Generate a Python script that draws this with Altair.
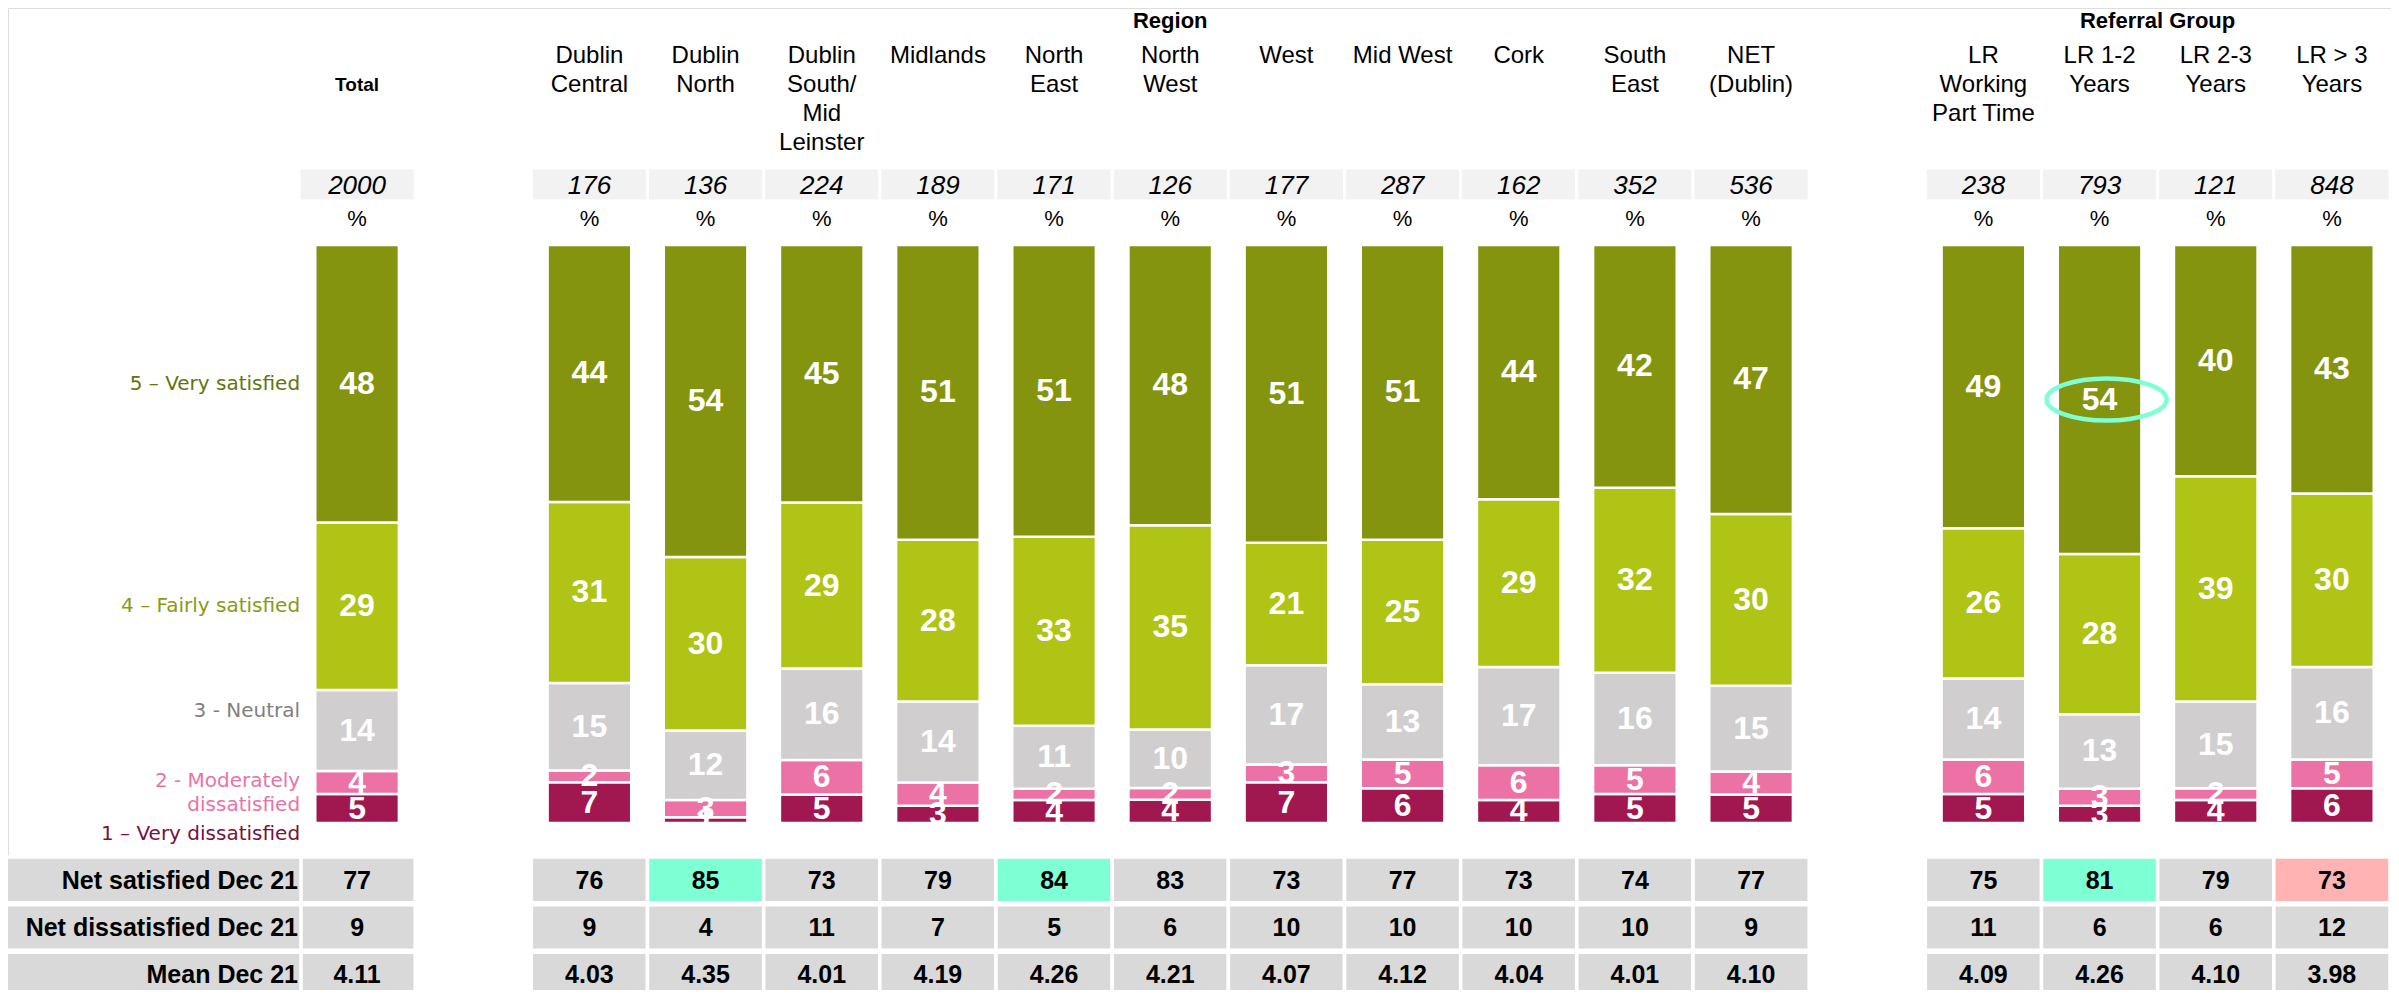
import altair as alt
import pandas as pd

# ---------------- data ----------------
columns = ["Total",
           "Dublin Central", "Dublin North", "Dublin South/Mid Leinster", "Midlands",
           "North East", "North West", "West", "Mid West", "Cork", "South East", "NET (Dublin)",
           "LR Working Part Time", "LR 1-2 Years", "LR 2-3 Years", "LR > 3 Years"]
header_labels = ["Total",
                 "Dublin\nCentral", "Dublin\nNorth", "Dublin\nSouth/\nMid\nLeinster", "Midlands",
                 "North\nEast", "North\nWest", "West", "Mid West", "Cork", "South\nEast", "NET\n(Dublin)",
                 "LR\nWorking\nPart Time", "LR 1-2\nYears", "LR 2-3\nYears", "LR > 3\nYears"]
base_n = [2000, 176, 136, 224, 189, 171, 126, 177, 287, 162, 352, 536, 238, 793, 121, 848]

very_satisfied = [48, 44, 54, 45, 51, 51, 48, 51, 51, 44, 42, 47, 49, 54, 40, 43]
fairly_satisfied = [29, 31, 30, 29, 28, 33, 35, 21, 25, 29, 32, 30, 26, 28, 39, 30]
neutral = [14, 15, 12, 16, 14, 11, 10, 17, 13, 17, 16, 15, 14, 13, 15, 16]
moderately_dissatisfied = [4, 2, 3, 6, 4, 2, 2, 3, 5, 6, 5, 4, 6, 3, 2, 5]
very_dissatisfied = [5, 7, 1, 5, 3, 4, 4, 7, 6, 4, 5, 5, 5, 3, 4, 6]

net_satisfied = [77, 76, 85, 73, 79, 84, 83, 73, 77, 73, 74, 77, 75, 81, 79, 73]
net_satisfied_sig = ["none", "none", "high", "none", "none", "high", "none", "none", "none",
                     "none", "none", "none", "none", "high", "none", "low"]
net_dissatisfied = [9, 9, 4, 11, 7, 5, 6, 10, 10, 10, 10, 9, 11, 6, 6, 12]
mean_score = ["4.11", "4.03", "4.35", "4.01", "4.19", "4.26", "4.21", "4.07", "4.12", "4.04",
              "4.01", "4.10", "4.09", "4.26", "4.10", "3.98"]

levels = ["1 – Very dissatisfied", "2 - Moderately dissatisfied", "3 - Neutral",
          "4 – Fairly satisfied", "5 – Very satisfied"]
legend_labels = ["1 – Very dissatisfied", "2 - Moderately\ndissatisfied", "3 - Neutral",
                 "4 – Fairly satisfied", "5 – Very satisfied"]
row_names = ["Net satisfied Dec 21", "Net dissatisfied Dec 21", "Mean Dec 21"]

group_titles = ["Region", "Referral Group"]
highlighted = ("LR 1-2 Years", "5 – Very satisfied")

# ---------------- styles ----------------
level_colors = ["#A1174F", "#EC72A6", "#D0CECE", "#AFC414", "#84940F"]
legend_text_colors = ["#7A1140", "#EC72A6", "#808080", "#8A9A14", "#66740C"]
legend_dy = [25, -2, -20, 0, 0]
FONT = "Liberation Sans"

regions = columns[1:12]
referral = columns[12:]
x_domain = ["Total", "_gap1"] + regions + ["_gap2"] + referral

# ---------------- tables ----------------
series = [very_dissatisfied, moderately_dissatisfied, neutral, fairly_satisfied, very_satisfied]
bars_df = pd.DataFrame([
    {"col": c, "level": levels[i], "lvl_idx": i, "value": series[i][j], "legend": legend_labels[i]}
    for j, c in enumerate(columns) for i in range(5)
])
hdr_df = pd.DataFrame({"col": columns, "label": header_labels, "n": base_n})
tab_rows = []
for j, c in enumerate(columns):
    tab_rows.append({"col": c, "row": row_names[0], "txt": str(net_satisfied[j]), "sig": net_satisfied_sig[j]})
    tab_rows.append({"col": c, "row": row_names[1], "txt": str(net_dissatisfied[j]), "sig": "none"})
    tab_rows.append({"col": c, "row": row_names[2], "txt": mean_score[j], "sig": "none"})
tab_df = pd.DataFrame(tab_rows)
rowlab_df = pd.DataFrame({"row": row_names})
title_df = pd.DataFrame({"col": ["North West", "LR 1-2 Years"], "title": group_titles})

# ---------------- scales ----------------
X = alt.X("col:N", scale=alt.Scale(domain=x_domain, range=[291, 2382], paddingInner=0, paddingOuter=0),
          axis=None)
yb = alt.Scale(domain=[0, 1], range=[815, 237], nice=False, zero=False)
yrow = alt.Scale(domain=row_names, range=[849, 990], paddingInner=0.04, paddingOuter=0)

stacked = (alt.Chart(bars_df)
           .transform_stack(stack="value", groupby=["col"],
                            sort=[alt.SortField("lvl_idx", order="ascending")],
                            offset="normalize", as_=["v0", "v1"])
           .transform_calculate(mid="(datum.v0 + datum.v1) / 2"))

bars = stacked.mark_bar(width=alt.RelativeBandSize(0.72), stroke="white", strokeWidth=2.5).encode(
    x=X,
    y=alt.Y("v0:Q", scale=yb, axis=None),
    y2="v1:Q",
    color=alt.Color("level:N", scale=alt.Scale(domain=levels, range=level_colors), legend=None),
)
bar_labels = stacked.mark_text(color="white", font=FONT, fontSize=32, fontWeight="bold",
                               baseline="middle", align="center").encode(
    x=X, y=alt.Y("mid:Q", scale=yb, axis=None), text="value:Q")

ellipse_path = ("M -0.883 0 C -0.883 -0.193 -0.4353 -0.35 0.117 -0.35 "
                "C 0.6693 -0.35 1.117 -0.193 1.117 0 "
                "C 1.117 0.193 0.6693 0.35 0.117 0.35 "
                "C -0.4353 0.35 -0.883 0.193 -0.883 0 Z")
ellipse = stacked.transform_filter(
    (alt.datum.col == highlighted[0]) & (alt.datum.level == highlighted[1])
).mark_point(shape=ellipse_path, size=14400, filled=False, stroke="#7FFFD4",
             strokeWidth=4.5, opacity=1).encode(
    x=X, y=alt.Y("mid:Q", scale=yb, axis=None))

legend_layers = []
for i in range(5):
    legend_layers.append(
        stacked.transform_filter((alt.datum.col == "Total") & (alt.datum.lvl_idx == i))
        .mark_text(align="right", baseline="middle", dx=-57, dy=legend_dy[i], color=legend_text_colors[i],
                   font="DejaVu Sans", fontSize=20, lineBreak="\n", lineHeight=24)
        .encode(x=X, y=alt.Y("mid:Q", scale=yb, axis=None), text="legend:N")
    )

headers = alt.Chart(hdr_df).transform_filter(alt.datum.col != "Total").mark_text(
    font=FONT, fontSize=24, lineBreak="\n", lineHeight=29, baseline="alphabetic", align="center",
    color="black").encode(x=X, y=alt.value(55), text="label:N")
total_header = alt.Chart(hdr_df).transform_filter(alt.datum.col == "Total").mark_text(
    font=FONT, fontSize=19, fontWeight="bold", baseline="alphabetic", align="center",
    color="black").encode(x=X, y=alt.value(83), text="label:N")
n_boxes = alt.Chart(hdr_df).mark_rect(fill="#F2F2F2", stroke="white", strokeWidth=3).encode(
    x=X, y=alt.value(160), y2=alt.value(193))
n_text = alt.Chart(hdr_df).mark_text(font=FONT, fontSize=26, fontStyle="italic", baseline="alphabetic",
                                     align="center", color="black").encode(
    x=X, y=alt.value(186), text="n:Q")
pct_text = alt.Chart(hdr_df).mark_text(font=FONT, fontSize=22, baseline="alphabetic", align="center",
                                       color="black").encode(
    x=X, y=alt.value(218), text=alt.value("%"))

region_title = alt.Chart(title_df).transform_filter(alt.datum.title == "Region").mark_text(
    font=FONT, fontSize=22, fontWeight="bold", baseline="alphabetic", align="center", color="black"
).encode(x=X, y=alt.value(20), text="title:N")
referral_title = alt.Chart(title_df).transform_filter(alt.datum.title == "Referral Group").mark_text(
    font=FONT, fontSize=22, fontWeight="bold", baseline="alphabetic", align="center", color="black",
    dx=58).encode(x=X, y=alt.value(20), text="title:N")

cells = alt.Chart(tab_df).mark_rect(stroke="white", strokeWidth=3.5).encode(
    x=X,
    y=alt.Y("row:N", scale=yrow, axis=None),
    color=alt.Color("sig:N", scale=alt.Scale(domain=["none", "high", "low"],
                                             range=["#D9D9D9", "#7FFFD4", "#FFB3B3"]), legend=None),
)
cell_text = alt.Chart(tab_df).mark_text(font=FONT, fontSize=25, fontWeight="bold", baseline="middle",
                                        align="center", color="black").encode(
    x=X, y=alt.Y("row:N", scale=yrow, axis=None), text="txt:N")
row_cells = alt.Chart(rowlab_df).mark_rect(fill="#D9D9D9", stroke="white", strokeWidth=3.5).encode(
    x=alt.value(-10), x2=alt.value(293), y=alt.Y("row:N", scale=yrow, axis=None))
row_text = alt.Chart(rowlab_df).mark_text(font=FONT, fontSize=25, fontWeight="bold", baseline="middle",
                                          align="right", color="black").encode(
    x=alt.value(290), y=alt.Y("row:N", scale=yrow, axis=None), text="row:N")

chart = alt.layer(
    bars, bar_labels, ellipse, *legend_layers,
    region_title, referral_title, headers, total_header, n_boxes, n_text, pct_text,
    cells, cell_text, row_cells, row_text,
).resolve_scale(y="independent", color="independent").properties(
    width=2383, height=982,
    autosize=alt.AutoSizeParams(type="none"),
    padding=0,
).configure_view(strokeWidth=0).configure(background="white")

chart.save("out.html", embed_options={"renderer": "svg", "actions": False})
